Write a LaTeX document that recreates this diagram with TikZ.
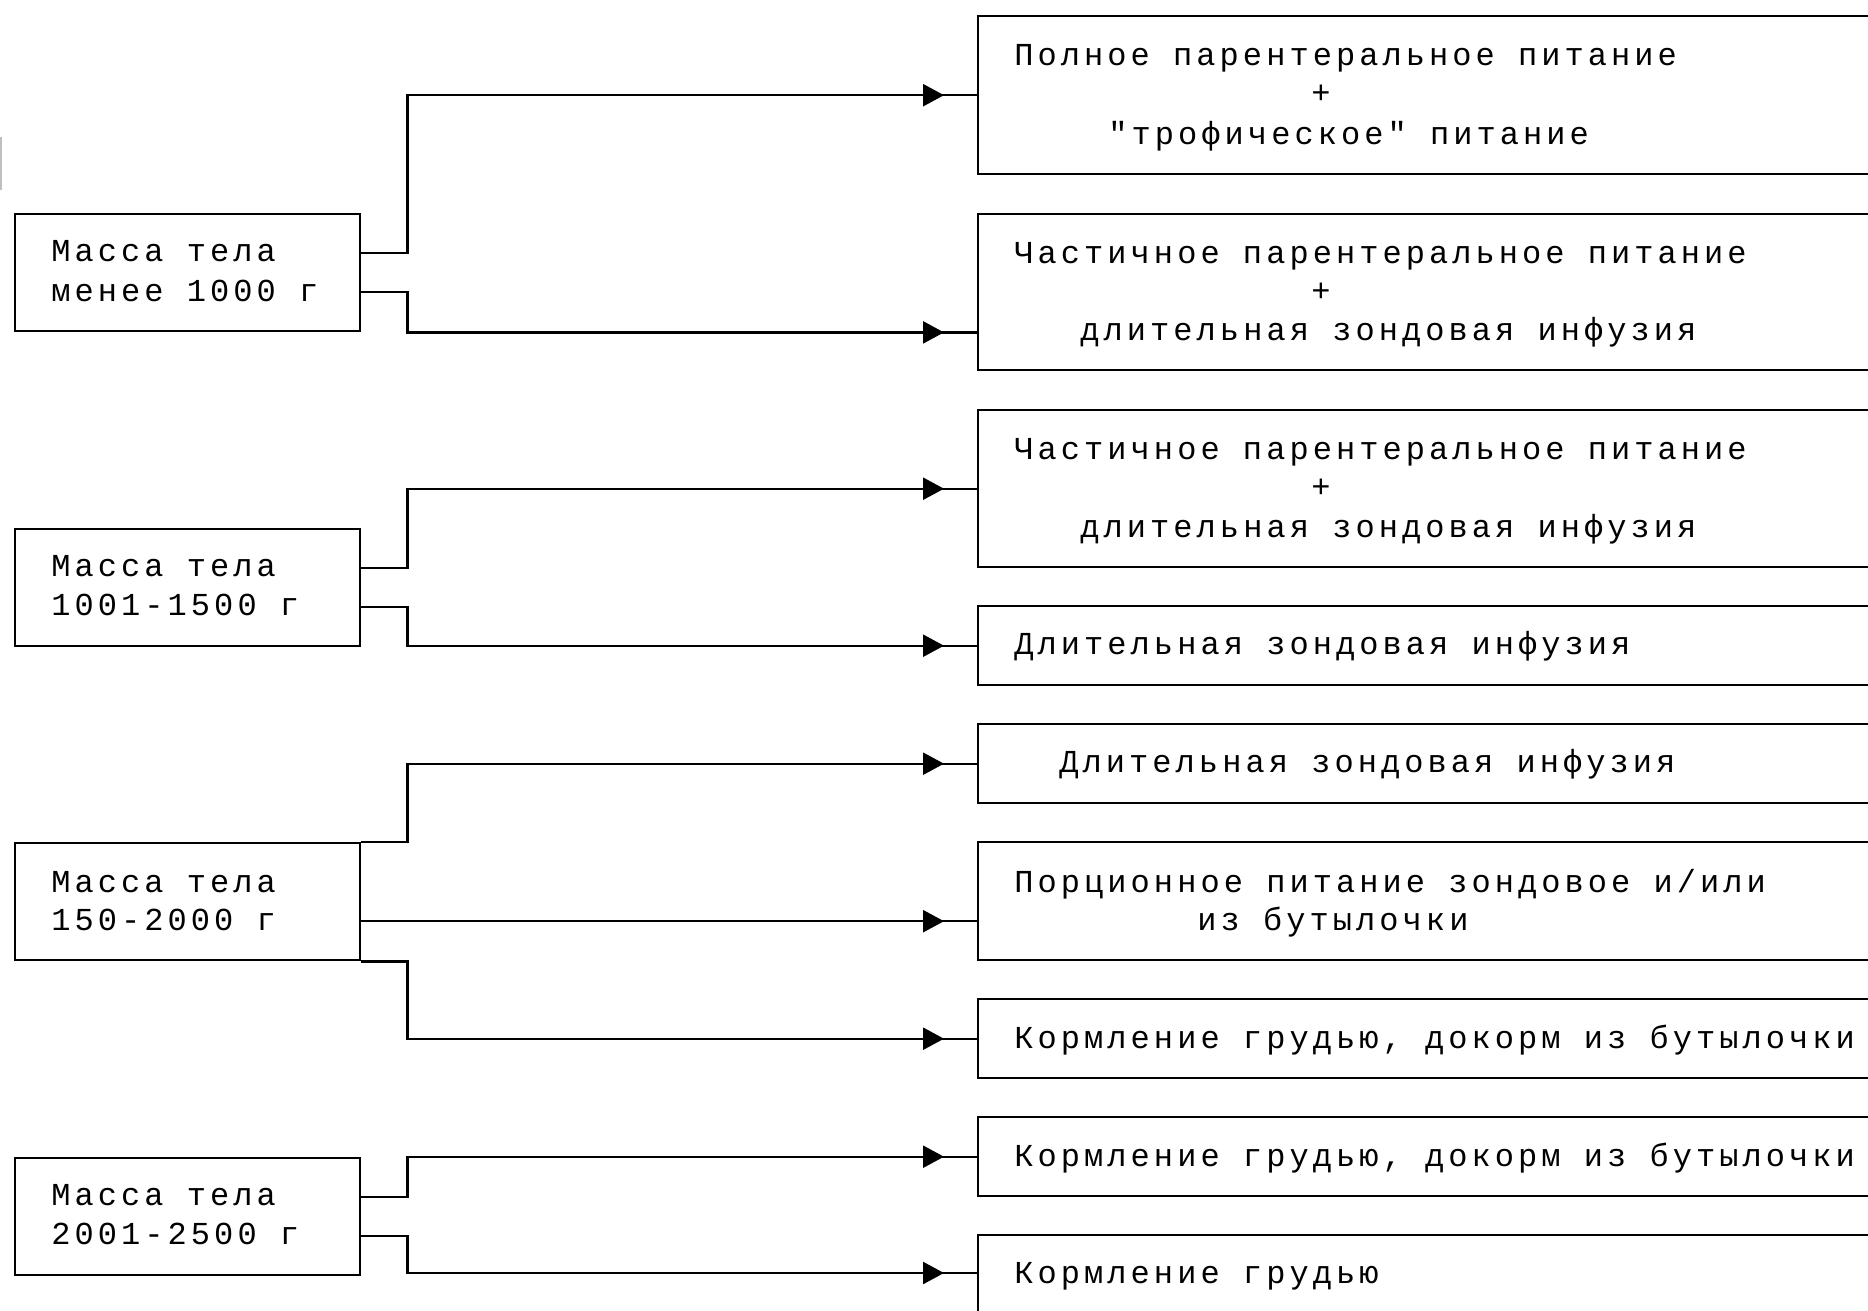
\documentclass[tikz,border=0pt]{standalone}
\usepackage{fontspec}
\newfontfamily\monofam[LetterSpace=12.7]{Liberation Mono}
\usetikzlibrary{arrows.meta,decorations.markings}
\begin{document}
\begin{tikzpicture}[x=0.5pt,y=-0.5pt,
  lbox/.style={draw, line width=1.2pt, anchor=north west, inner sep=0pt, minimum width=172.5pt, minimum height=58.5pt},
  rbox/.style={draw, line width=1.2pt, anchor=north west, inner sep=0pt, minimum width=470pt},
  txt/.style={anchor=base west, inner sep=0pt, font=\monofam\fontsize{16pt}{19pt}\selectfont},
  plus/.style={anchor=base, inner sep=0pt, font=\monofam\fontsize{16pt}{19pt}\selectfont},
  conn/.style={line width=1.2pt, postaction={decorate},
    decoration={markings, mark=at position -16.5pt with {\arrow{Triangle[length=10.5pt,width=11pt]}}}}]
\useasboundingbox (0,0) rectangle (1868,1311);
\clip (0,0) rectangle (1868,1311);
\fill[white] (0,0) rectangle (1868,1311);
\draw[gray!50, line width=0.6pt] (1,137) -- (1,190);
% left boxes
\node[lbox] (B1) at (14,213) {};
\node[lbox] (B2) at (14,528) {};
\node[lbox] (B3) at (14,842) {};
\node[lbox] (B4) at (14,1157) {};
% right boxes
\node[rbox, minimum height=79pt] (R1) at (977,15) {};
\node[rbox, minimum height=78pt] (R2) at (977,213) {};
\node[rbox, minimum height=78.5pt] (R3) at (977,409) {};
\node[rbox, minimum height=39.5pt] (R4) at (977,605) {};
\node[rbox, minimum height=39.5pt] (R5) at (977,723) {};
\node[rbox, minimum height=59pt] (R6) at (977,841) {};
\node[rbox, minimum height=39.5pt] (R7) at (977,998) {};
\node[rbox, minimum height=39.5pt] (R8) at (977,1116) {};
\node[rbox, minimum height=50pt] (R9) at (977,1234) {};
% left texts
\node[txt] (b1a) at (51,261) {Масса тела};
\node[txt] (b1b) at (51,301) {менее 1000 г};
\node[txt] (b2a) at (51,576) {Масса тела};
\node[txt] (b2b) at (51,615) {1001-1500 г};
\node[txt] (b3a) at (51,892) {Масса тела};
\node[txt] (b3b) at (51,930) {150-2000 г};
\node[txt] (b4a) at (51,1205) {Масса тела};
\node[txt] (b4b) at (51,1244) {2001-2500 г};
% right texts
\node[txt] (r1a) at (1014,66) {Полное парентеральное питание};
\node[plus] (r1b) at (1321,104) {+};
\node[txt] (r1c) at (1108,145) {"трофическое" питание};
\node[txt] (r2a) at (1014,263) {Частичное парентеральное питание};
\node[plus] (r2b) at (1321,301) {+};
\node[txt] (r2c) at (1080,340) {длительная зондовая инфузия};
\node[txt] (r3a) at (1014,459) {Частичное парентеральное питание};
\node[plus] (r3b) at (1321,497) {+};
\node[txt] (r3c) at (1080,537) {длительная зондовая инфузия};
\node[txt] (r4a) at (1014,654) {Длительная зондовая инфузия};
\node[txt] (r5a) at (1059,772) {Длительная зондовая инфузия};
\node[txt] (r6a) at (1014,892) {Порционное питание зондовое и/или};
\node[txt] (r6b) at (1197,930) {из бутылочки};
\node[txt] (r7a) at (1014,1048) {Кормление грудью, докорм из бутылочки};
\node[txt] (r8a) at (1014,1166) {Кормление грудью, докорм из бутылочки};
\node[txt] (r9a) at (1014,1283) {Кормление грудью};
% connectors
\draw[conn] ([yshift=10pt]B1.east) -- ++(46,0) |- (R1.west);
\draw[conn] ([yshift=-9.75pt]B1.east) -- ++(46,0) |- ([yshift=19.5pt]R2.south west);
\draw[conn] ([yshift=10pt]B2.east) -- ++(46,0) |- (R3.west);
\draw[conn] ([yshift=-9.75pt]B2.east) -- ++(46,0) |- (R4.west);
\draw[conn] (B3.north east) -- ++(46,0) |- (R5.west);
\coordinate (b3m) at ([yshift=-9.75pt]B3.east);
\draw[conn] (b3m) -- (R6.west |- b3m);
\draw[conn] (B3.south east) -- ++(46,0) |- (R7.west);
\draw[conn] ([yshift=10pt]B4.east) -- ++(46,0) |- (R8.west);
\draw[conn] ([yshift=-9.75pt]B4.east) -- ++(46,0) |- ([yshift=-19.5pt]R9.north west);
\end{tikzpicture}
\end{document}
